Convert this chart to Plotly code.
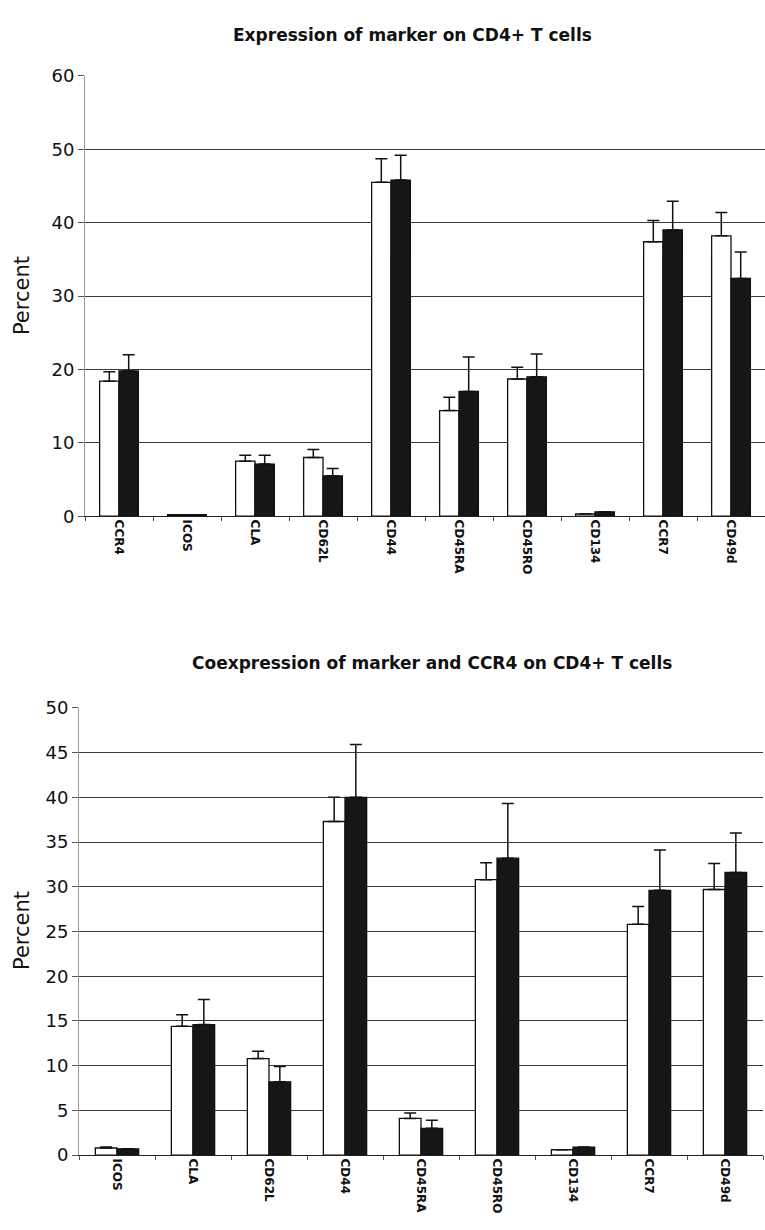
import plotly.graph_objects as go

# ---- Expression of marker on CD4+ T cells ----
top_markers = ["CCR4", "ICOS", "CLA", "CD62L", "CD44", "CD45RA", "CD45RO", "CD134", "CCR7", "CD49d"]
top_open = [18.4, 0.2, 7.5, 8.0, 45.5, 14.4, 18.7, 0.3, 37.4, 38.2]
top_open_err = [1.3, 0.0, 0.8, 1.1, 3.2, 1.8, 1.6, 0.0, 2.9, 3.2]
top_filled = [19.8, 0.2, 7.1, 5.5, 45.8, 17.0, 19.0, 0.6, 39.0, 32.4]
top_filled_err = [2.2, 0.0, 1.2, 1.0, 3.4, 4.7, 3.1, 0.0, 3.9, 3.6]

# ---- Coexpression of marker and CCR4 on CD4+ T cells ----
bot_markers = ["ICOS", "CLA", "CD62L", "CD44", "CD45RA", "CD45RO", "CD134", "CCR7", "CD49d"]
bot_open = [0.8, 14.4, 10.8, 37.3, 4.1, 30.8, 0.6, 25.8, 29.7]
bot_open_err = [0.1, 1.3, 0.8, 2.7, 0.6, 1.9, 0.0, 2.0, 2.9]
bot_filled = [0.7, 14.6, 8.2, 40.0, 3.0, 33.2, 0.9, 29.6, 31.6]
bot_filled_err = [0.0, 2.8, 1.7, 5.9, 0.9, 6.1, 0.0, 4.5, 4.4]

W, H = 765, 1230
FONT = "DejaVu Sans"


def px_x(p):
    return p / W


def px_y(p):
    return 1 - p / H


def err(vals):
    return dict(type="data", symmetric=False, array=vals, arrayminus=[0] * len(vals),
                color="#111111", thickness=1.5, width=6)


fig = go.Figure()

for xa, ya, cats, o, oe, f, fe in [
    ("x", "y", top_markers, top_open, top_open_err, top_filled, top_filled_err),
    ("x2", "y2", bot_markers, bot_open, bot_open_err, bot_filled, bot_filled_err),
]:
    fig.add_bar(x=cats, y=o, error_y=err(oe), xaxis=xa, yaxis=ya,
                marker=dict(color="white", line=dict(color="#111111", width=1.3)),
                showlegend=False)
    fig.add_bar(x=cats, y=f, error_y=err(fe), xaxis=xa, yaxis=ya,
                marker=dict(color="#161616", line=dict(color="#111111", width=1.3)),
                showlegend=False)

xcommon = dict(type="category", showline=True, linecolor="#222222", linewidth=1,
               ticks="outside", tickson="boundaries", ticklen=4, tickcolor="#555555",
               tickangle=90, showgrid=False, zeroline=False,
               tickfont=dict(family=FONT, size=12, color="#111111", weight="bold"))
ycommon = dict(showline=True, linecolor="#9a9a9a", linewidth=1, ticks="outside",
               ticklen=6, tickcolor="#555555", showgrid=True, gridcolor="#3a3a3a",
               gridwidth=1, zeroline=False,
               tickfont=dict(family=FONT, size=18, color="#111111"))

fig.update_layout(
    width=W, height=H,
    margin=dict(l=0, r=0, t=0, b=0),
    paper_bgcolor="white", plot_bgcolor="white",
    barmode="group", bargap=0.43, bargroupgap=0.0,
    xaxis=dict(xcommon, domain=[px_x(85), px_x(765)], anchor="y"),
    yaxis=dict(ycommon, domain=[px_y(514), px_y(66)], range=[0, 60], dtick=10, anchor="x"),
    xaxis2=dict(xcommon, domain=[px_x(79), px_x(763)], anchor="y2"),
    yaxis2=dict(ycommon, domain=[px_y(1164), px_y(709)], range=[0, 50], dtick=5, anchor="x2"),
)

titles = [("Expression of marker on CD4+ T cells", 412, 24),
          ("Coexpression of marker and CCR4 on CD4+ T cells", 432, 663)]
for text, cx, cy in titles:
    fig.add_annotation(text=text, x=px_x(cx), y=px_y(cy), xref="paper", yref="paper",
                       xanchor="center", yanchor="middle", showarrow=False,
                       font=dict(family=FONT, size=17, color="#111111", weight="bold"))

for yc in (290, 936):
    fig.add_annotation(text="Percent", x=px_x(22), y=px_y(yc), xref="paper", yref="paper",
                       xanchor="center", yanchor="middle", showarrow=False, textangle=-90,
                       font=dict(family=FONT, size=21, color="#111111"))

fig.write_html("out.html")
